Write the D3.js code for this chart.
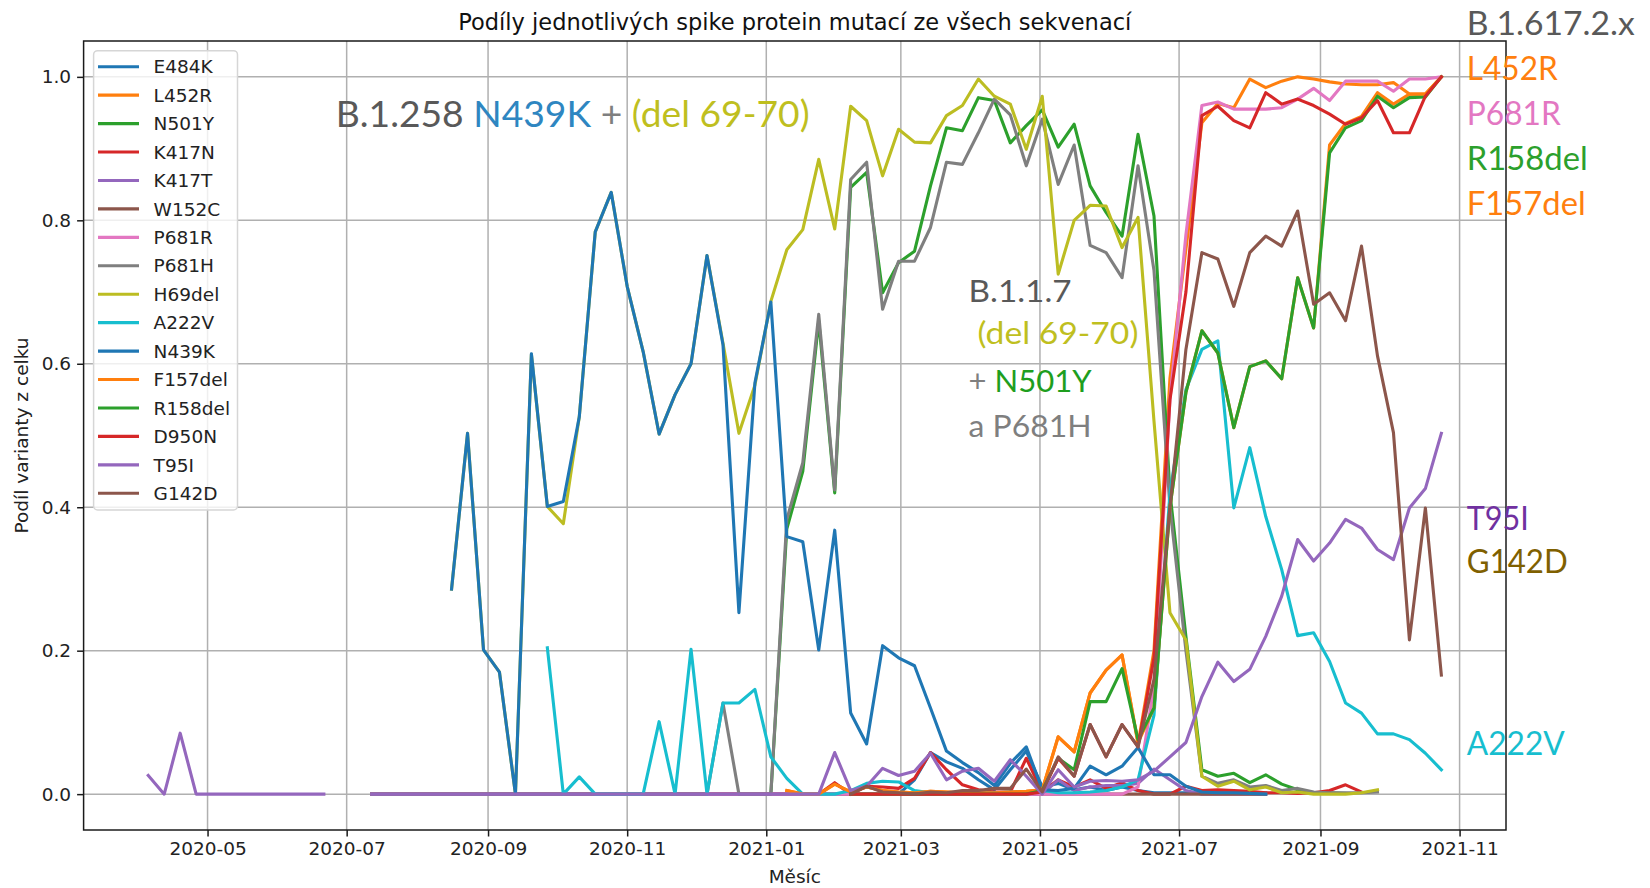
<!DOCTYPE html>
<html><head><meta charset="utf-8">
<script src="https://cdn.jsdelivr.net/npm/d3@7"></script>
<style>
html,body{margin:0;padding:0;background:#fff;}
svg{display:block;}
</style></head><body>
<svg id="c" width="1650" height="888" xmlns="http://www.w3.org/2000/svg"></svg>
<script>
const N = null;
// weekly sampling dates: first week and number of weeks
const startDate = "2020-04-05";
const nWeeks = 82;
const xTickLabels = ["2020-05","2020-07","2020-09","2020-11","2021-01","2021-03","2021-05","2021-07","2021-09","2021-11"];
const yTicks = [0, 0.2, 0.4, 0.6, 0.8, 1.0];
const seriesNames = ["E484K","L452R","N501Y","K417N","K417T","W152C","P681R","P681H","H69del","A222V","N439K","F157del","R158del","D950N","T95I","G142D"];
const seriesColors = ["#1f77b4","#ff7f0e","#2ca02c","#d62728","#9467bd","#8c564b","#e377c2","#7f7f7f","#bcbd22","#17becf","#1f77b4","#ff7f0e","#2ca02c","#d62728","#9467bd","#8c564b"];

const E484K = [N,N,N,N,N,N,N,N,N,N, N,N,N,N,0,0,0,0,0,0, 0,0,0,0,0,0,0,0,0,0, 0,0,0,0,0,0,0,0,0,0,
  0,0,0,0,0,0,0,0,0.02,0.058, 0.045,0.036,0.02,0.006,0.034,0.06,0.01,0.015,0.006,0.01,
  0.005,0.01,0.005,0.002,0.002,0.002,0.002,0.002,0.002,0.002, 0.002,N,N,N,N,N,N,N,N,N, N,N];
const L452R = [N,N,N,N,N,N,N,N,N,N, N,N,N,N,N,N,N,N,N,N, N,N,N,N,N,N,N,N,N,N, N,N,N,N,N,N,N,N,N,N,
  0.005,0,0,0.014,0.003,0.01,0.005,0.003,0.002,0.004, 0.003,0.002,0.002,0.002,0.003,0.004,0.006,0.08,0.059,0.141,
  0.173,0.194,0.07,0.2,0.58,0.76,0.936,0.963,0.957,0.997, 0.985,0.994,1.0,0.997,0.993,0.99,0.989,0.989,0.992,0.976, 0.976,1.0];
const N501Y = [N,N,N,N,N,N,N,N,N,N, N,N,N,N,0,0,0,0,0,0, 0,0,0,0,0,0,0,0,0,0, 0,0,0,0,0,0,0,0,0,0,
  0.37,0.45,0.66,0.42,0.846,0.867,0.699,0.741,0.757,0.848, 0.929,0.925,0.971,0.967,0.908,0.932,0.954,0.902,0.934,0.848,
  0.811,0.778,0.92,0.806,0.42,0.22,0.034,0.025,0.029,0.016, 0.027,0.014,0.006,0.002,0.002,0.001,N,N,N,N, N,N];
const K417N = [N,N,N,N,N,N,N,N,N,N, N,N,N,N,0,0,0,0,0,0, 0,0,0,0,0,0,0,0,0,0, 0,0,0,0,0,0,0,0,0,0,
  0,0,0,0.016,0,0.011,0.01,0.008,0.022,0.058, 0.034,0.013,0.006,0.003,0.003,0.05,0.003,0.02,0.01,0.02,
  0.008,0.016,0.005,0,0,0.011,0.005,0.006,0.005,0.004, 0.002,0.002,0.001,0.002,0.005,0.013,0.003,N,N,N, N,N];
const K417T = [N,N,N,N,N,N,N,N,N,N, N,N,N,N,0,0,0,0,0,0, 0,0,0,0,0,0,0,0,0,0, 0,0,0,0,0,0,0,0,0,0,
  0,0,0,0,0,0,0,0,0,0, 0,0,0,0,0,0,0,0.02,0.005,0.01,
  0.012,0.012,0.015,0.035,0.02,0.005,0,0,0,0, 0,N,N,N,N,N,N,N,N,N, N,N];
const W152C = [N,N,N,N,N,N,N,N,N,N, N,N,N,N,0,0,0,0,0,0, 0,0,0,0,0,0,0,0,0,0, 0,0,0,0,0,0,0,0,0,0,
  0,0,0,0,0,0,0,0,0,0, 0,0,0,0,0,0,0,0,0,0,
  0,0,0,0,0,0,0,0,0,0, 0,N,N,N,N,N,N,N,N,N, N,N];
const P681R = [N,N,N,N,N,N,N,N,N,N, N,N,N,N,0,0,0,0,0,0, 0,0,0,0,0,0,0,0,0,0, 0,0,0,0,0,0,0,0,0,0,
  0,0,0,0,0,0,0,0,0,0, 0,0,0,0,0,0,0,0,0,0,
  0,0,0.01,0.15,0.55,0.78,0.96,0.965,0.955,0.955, 0.955,0.957,0.969,0.984,0.967,0.994,0.994,0.994,0.98,0.997, 0.997,1.0];
const P681H = [N,N,N,N,N,N,N,N,N,N, N,N,N,N,0,0,0,0,0,0, 0,0,0,0,0,0,0,0,0,0, 0,0,0,0,0,0,0.127,0,0,0,
  0.383,0.462,0.669,0.424,0.857,0.881,0.676,0.743,0.743,0.79, 0.881,0.878,0.922,0.969,0.947,0.876,0.941,0.85,0.905,0.765,
  0.755,0.72,0.876,0.73,0.40,0.2,0.025,0.015,0.02,0.01, 0.012,0.005,0.008,0.003,0.002,0.002,0.002,0.003,N,N, N,N];
const H69del = [N,N,N,N,N,N,N,N,N,N, N,N,N,N,N,N,N,N,N,0.286,
  0.503,0.201,0.17,0,0.613,0.401,0.377,0.526,0.784,0.839, 0.708,0.617,0.502,0.557,0.6,0.751,0.629,0.503,0.57,0.687,
  0.759,0.787,0.885,0.788,0.959,0.939,0.862,0.927,0.909,0.908, 0.946,0.96,0.997,0.973,0.962,0.899,0.973,0.725,0.8,0.821,
  0.82,0.762,0.804,0.52,0.253,0.215,0.025,0.011,0.018,0.006, 0.01,0.002,0.003,0,0,0,0.002,0.006,N,N, N,N];
const A222V = [N,N,N,N,N,N,N,N,N,N, N,N,N,N,N,N,N,N,N,N, N,N,N,N,N,0.204,0,0.024,0,0,
  0,0,0.101,0,0.202,0,0.127,0.127,0.146,0.052, 0.022,0,0,0,0.005,0.015,0.018,0.017,0.005,0.002,
  0.002,0.002,0.002,0.002,0.003,0.003,0.005,0.002,0.002,0.003, 0.005,0.01,0.02,0.11,0.42,0.564,0.62,0.632,0.399,0.483,
  0.387,0.313,0.221,0.225,0.185,0.127,0.113,0.084,0.084,0.076, 0.057,0.034];
const N439K = [N,N,N,N,N,N,N,N,N,N, N,N,N,N,N,N,N,N,N,0.286,
  0.503,0.201,0.17,0,0.614,0.401,0.408,0.526,0.784,0.839, 0.708,0.617,0.502,0.557,0.6,0.751,0.627,0.253,0.573,0.686,
  0.359,0.352,0.201,0.368,0.113,0.07,0.207,0.19,0.179,0.12, 0.06,0.044,0.03,0.012,0.043,0.066,0.006,0.005,0.008,0.039,
  0.027,0.039,0.065,0.027,0.027,0.011,0.003,0.002,0.002,0.001, 0,N,N,N,N,N,N,N,N,N, N,N];
const F157del = [N,N,N,N,N,N,N,N,N,N, N,N,N,N,N,N,N,N,N,N, N,N,N,N,N,N,N,N,N,N, N,N,N,N,N,N,N,N,N,N,
  0.005,0,0,0.014,0.003,0.01,0.005,0.003,0.002,0.004, 0.003,0.002,0.002,0.002,0.003,0.004,0.006,0.08,0.059,0.141,
  0.173,0.194,0.072,0.12,0.40,0.56,0.646,0.615,0.511,0.596, 0.604,0.579,0.72,0.65,0.905,0.935,0.945,0.978,0.962,0.976, 0.976,1.0];
const R158del = [N,N,N,N,N,N,N,N,N,N, N,N,N,N,N,N,N,N,N,N, N,N,N,N,N,N,N,N,N,N, N,N,N,N,N,N,N,N,N,N,
  N,N,N,N,0,0,0,0,0,0, 0,0,0,0,0,0,0.005,0.05,0.034,0.129,
  0.129,0.175,0.076,0.12,0.40,0.56,0.646,0.615,0.511,0.596, 0.604,0.579,0.72,0.65,0.894,0.929,0.939,0.973,0.957,0.971, 0.972,1.0];
const D950N = [N,N,N,N,N,N,N,N,N,N, N,N,N,N,N,N,N,N,N,N, N,N,N,N,N,N,N,N,N,N, N,N,N,N,N,N,N,N,N,N,
  N,N,N,N,0,0,0,0,0,0, 0,0,0,0,0,0,0.003,0.05,0.025,0.097,
  0.052,0.097,0.066,0.19,0.55,0.70,0.946,0.959,0.939,0.929, 0.978,0.962,0.969,0.96,0.948,0.934,0.943,0.967,0.922,0.922, 0.973,1.0];
const T95I = [0.026,0,0.085,0,0,0,0,0,0,0, 0,0,N,N,0,0,0,0,0,0, 0,0,0,0,0,0,0,0,0,0, 0,0,0,0,0,0,0,0,0,0,
  0,0,0,0.058,0.005,0.011,0.036,0.026,0.032,0.057, 0.02,0.032,0.036,0.018,0.048,0.025,0,0.034,0.01,0.018,
  0.019,0.018,0.02,0.032,0.052,0.072,0.136,0.184,0.157,0.174, 0.22,0.276,0.355,0.325,0.35,0.383,0.371,0.341,0.327,0.399, 0.426,0.503];
const G142D = [N,N,N,N,N,N,N,N,N,N, N,N,N,N,N,N,N,N,N,N, N,N,N,N,N,N,N,N,N,N, N,N,N,N,N,N,N,N,N,N,
  N,N,N,N,0,0.011,0.003,0.002,0,0.003, 0.002,0.005,0.005,0.008,0.008,0.035,0.003,0.052,0.025,0.097,
  0.052,0.097,0.066,0.16,0.40,0.62,0.755,0.746,0.68,0.755, 0.778,0.764,0.813,0.683,0.699,0.66,0.764,0.611,0.504,0.215, 0.399,0.166];

const seriesValues = [E484K,L452R,N501Y,K417N,K417T,W152C,P681R,P681H,H69del,A222V,N439K,F157del,R158del,D950N,T95I,G142D];

// ---------- layout ----------
const W = 1650, H = 888;
const L = 83.6, R = 1506, T = 41, B = 830;
const svg = d3.select("#c");
svg.append("rect").attr("width", W).attr("height", H).attr("fill", "#fff");

const t0 = new Date(startDate + "T00:00:00Z");
const dates = d3.range(nWeeks).map(i => d3.utcDay.offset(t0, 7 * i));
const span = dates[nWeeks - 1] - dates[0];
const x = d3.scaleUtc()
  .domain([new Date(+dates[0] - 0.05 * span), new Date(+dates[nWeeks - 1] + 0.05 * span)])
  .range([L, R]);
const y = d3.scaleLinear().domain([-0.05, 1.05]).range([B, T]);

const tickDates = xTickLabels.map(s => new Date(s + "-01T00:00:00Z"));
const FONT = "'DejaVu Sans', sans-serif";
const LW = 3.1;

// grid
const grid = svg.append("g").attr("stroke", "#b0b0b0").attr("stroke-width", 1.5);
tickDates.forEach(d => grid.append("line").attr("x1", x(d)).attr("x2", x(d)).attr("y1", T).attr("y2", B));
yTicks.forEach(v => grid.append("line").attr("x1", L).attr("x2", R).attr("y1", y(v)).attr("y2", y(v)));

// axes
const xAxis = d3.axisBottom(x).tickValues(tickDates).tickFormat(d3.utcFormat("%Y-%m")).tickSize(6.5).tickPadding(5.5);
const gx = svg.append("g").attr("transform", `translate(0,${B})`).call(xAxis);
const yAxis = d3.axisLeft(y).tickValues(yTicks).tickFormat(d3.format(".1f")).tickSize(6.5).tickPadding(6);
const gy = svg.append("g").attr("transform", `translate(${L},0)`).call(yAxis);
[gx, gy].forEach(g => {
  g.select(".domain").remove();
  g.selectAll(".tick line").attr("stroke", "#1a1a1a").attr("stroke-width", 1.5);
  g.selectAll(".tick text").attr("font-family", FONT).attr("font-size", 18.5).attr("fill", "#222");
});

// lines
const line = d3.line().defined(d => d.v !== null).x(d => x(d.t)).y(d => y(d.v));
const plot = svg.append("g");
seriesValues.forEach((vals, k) => {
  const pts = vals.map((v, i) => ({ t: dates[i], v }));
  plot.append("path").attr("d", line(pts)).attr("fill", "none")
    .attr("stroke", seriesColors[k]).attr("stroke-width", LW)
    .attr("stroke-linejoin", "round").attr("stroke-linecap", "square");
});

// frame
svg.append("rect").attr("x", L).attr("y", T).attr("width", R - L).attr("height", B - T)
  .attr("fill", "none").attr("stroke", "#1a1a1a").attr("stroke-width", 1.5);

// title and axis labels
svg.append("text").attr("x", (L + R) / 2).attr("y", 30).attr("text-anchor", "middle")
  .attr("font-family", FONT).attr("font-size", 22.5).attr("fill", "#111")
  .text("Podíly jednotlivých spike protein mutací ze všech sekvenací");
svg.append("text").attr("x", (L + R) / 2).attr("y", 883).attr("text-anchor", "middle")
  .attr("font-family", FONT).attr("font-size", 18.5).attr("fill", "#222").text("Měsíc");
svg.append("text").attr("transform", `translate(27.5,${(T + B) / 2}) rotate(-90)`).attr("text-anchor", "middle")
  .attr("font-family", FONT).attr("font-size", 18.5).attr("fill", "#222").text("Podíl varianty z celku");

// legend
const lg = svg.append("g");
lg.append("rect").attr("x", 93.6).attr("y", 50.7).attr("width", 143.9).attr("height", 459.3)
  .attr("rx", 4).attr("fill", "#fff").attr("fill-opacity", 0.8).attr("stroke", "#d6d6d6").attr("stroke-width", 1.5);
seriesNames.forEach((nm, k) => {
  const yy = 66.7 + 28.44 * k;
  lg.append("line").attr("x1", 98).attr("x2", 139).attr("y1", yy).attr("y2", yy)
    .attr("stroke", seriesColors[k]).attr("stroke-width", LW);
  lg.append("text").attr("x", 153.6).attr("y", yy + 6.7).attr("font-family", FONT)
    .attr("font-size", 18.5).attr("fill", "#222").text(nm);
});

// annotations
const AFONT = "Lato, 'Open Sans', sans-serif";
function note(parts, x0, y0, fs, targetW) {
  const g = svg.append("g").attr("transform", `translate(${x0},${y0})`);
  const t = g.append("text").attr("font-family", AFONT).attr("font-size", fs).style("white-space", "pre");
  parts.forEach(([s, c]) => t.append("tspan").attr("fill", c).text(s));
  const w = t.node().getComputedTextLength();
  if (targetW && w > 0) g.attr("transform", `translate(${x0},${y0}) scale(${targetW / w},1)`);
}
const GR = "#595959", GR2 = "#7f7f7f";
note([["B.1.258 ", GR], ["N439K", "#2e86c1"], [" + ", GR2], ["(del 69-70)", "#bfbf1f"]], 335.7, 126.7, 37, 474);
note([["B.1.1.7", GR]], 968.6, 302, 31, 103);
note([["(del 69-70)", "#bfbf1f"]], 977.5, 344, 31, 161);
note([["+ ", GR2], ["N501Y", "#1e9e1e"]], 968.6, 391.7, 31, 123);
note([["a P681H", GR2]], 968.6, 436.7, 31, 123);
note([["B.1.617.2.x", GR]], 1466.8, 35, 32.5, 168);
note([["L452R", "#ff7f0e"]], 1466.8, 80, 32.5, 91);
note([["P681R", "#e377c2"]], 1466.8, 125, 32.5, 94);
note([["R158del", "#2ca02c"]], 1466.8, 170, 32.5, 121);
note([["F157del", "#ff7f0e"]], 1466.8, 215, 32.5, 119);
note([["T95I", "#7030a0"]], 1466.8, 530, 32.5, 62);
note([["G142D", "#7f6000"]], 1466.8, 573.3, 32.5, 101);
note([["A222V", "#17becf"]], 1466.8, 755, 32.5, 98);
</script>
</body></html>
